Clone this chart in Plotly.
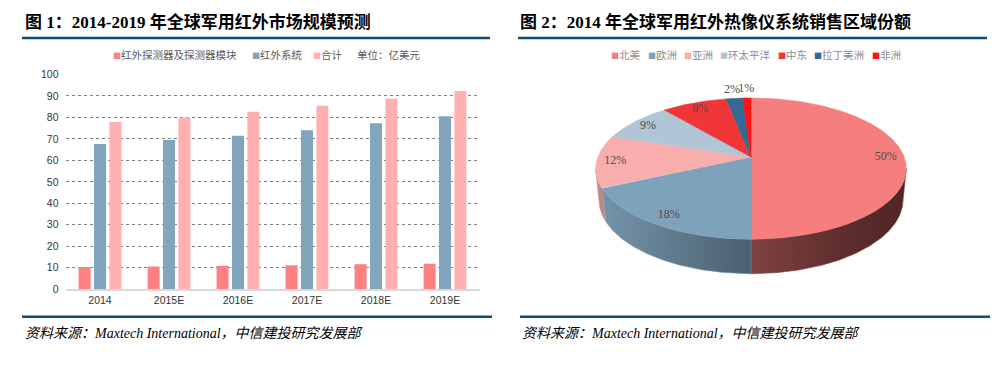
import numpy as np
import plotly.graph_objects as go

# ---------------- data ----------------
years = ["2014", "2015E", "2016E", "2017E", "2018E", "2019E"]
detectors = [10.4, 10.6, 10.9, 11.2, 11.6, 11.9]
systems = [67.6, 69.5, 71.5, 74.0, 77.3, 80.5]
totals = [77.8, 79.9, 82.6, 85.4, 88.7, 92.3]
bar_names = ["红外探测器及探测器模块", "红外系统", "合计"]
unit_label = "单位：亿美元"
y_ticks = [0, 10, 20, 30, 40, 50, 60, 70, 80, 90, 100]

regions = ["北美", "欧洲", "亚洲", "环太平洋", "中东", "拉丁美洲", "非洲"]
shares = [50, 18, 12, 9, 8, 2, 1]

title1 = "图 1：2014-2019 年全球军用红外市场规模预测"
title2 = "图 2：2014 年全球军用红外热像仪系统销售区域份额"
source = "资料来源：Maxtech International，中信建投研究发展部"

# ---------------- styles ----------------
W, H = 1000, 372
bar_colors = ["#FF8080", "#82A5BE", "#FFB1B1"]
top_colors = ["#F57E7E", "#7FA2BB", "#F9AEAE", "#B0C6D6", "#F03636", "#326A94", "#FF1212"]
side_grad = {
    0: [[0, "#7F4242"], [0.6, "#5E2D2D"], [1, "#4F2525"]],
    1: [[0, "#7594AA"], [1, "#4A5F6F"]],
    2: [[0, "#C98D8D"], [1, "#B88080"]],
}
NAVY = "#0E4E7C"
CJK = "Noto Sans CJK SC"
SERIF_CJK = "Liberation Serif, Noto Sans CJK SC"


def px(x):
    return x / W


def py(y):
    return 1 - y / H


fig = go.Figure()

# ---------------- bar chart ----------------
for name, vals, col in zip(bar_names, [detectors, systems, totals], bar_colors):
    fig.add_trace(go.Bar(x=years, y=vals, name=name, marker=dict(color=col, line=dict(width=0)),
                         xaxis="x", yaxis="y", showlegend=False, hoverinfo="skip"))

# ---------------- 3D pie (perspective projection of the slices) ----------------
CX, CY = 751.0, 156.0
SCALE = 825.6
DIST = 5.39
ELEV = np.radians(27.6)
THICK = 0.238


def proj(theta_deg, r=1.0, h=0.0):
    t = np.radians(np.asarray(theta_deg, dtype=float))
    x3 = r * np.sin(t)
    z3 = r * np.cos(t)
    y3 = -h
    yv = y3 * np.cos(ELEV) + z3 * np.sin(ELEV)
    zv = DIST + z3 * np.cos(ELEV) - y3 * np.sin(ELEV)
    return CX + SCALE * x3 / zv, CY - SCALE * yv / zv


def arc(a, b):
    n = max(int(abs(b - a) * 2), 2)
    return np.linspace(a, b, n)


sil = np.degrees(np.arccos(-np.cos(ELEV) / DIST))
front_lo, front_hi = sil, 360 - sil

total = sum(shares)
cum = np.concatenate([[0], np.cumsum(shares)]) / total * 360.0

# side faces
for i in range(len(shares)):
    a, b = max(cum[i], front_lo), min(cum[i + 1], front_hi)
    if b <= a:
        continue
    th = arc(a, b)
    xt, yt = proj(th)
    xb, yb = proj(th[::-1], h=THICK)
    xs = np.concatenate([xt, xb, xt[:1]])
    ys = np.concatenate([yt, yb, yt[:1]])
    grad = side_grad.get(i, [[0, "#888888"], [1, "#888888"]])
    fig.add_trace(go.Scatter(x=xs, y=ys, mode="lines", fill="toself",
                             line=dict(width=0.6, color=grad[0][1]),
                             fillgradient=dict(type="horizontal", colorscale=grad),
                             xaxis="x2", yaxis="y2", showlegend=False, hoverinfo="skip"))

# top faces
for i in range(len(shares)):
    th = arc(cum[i], cum[i + 1])
    xa, ya = proj(th)
    xs = np.concatenate([[CX], xa, [CX]])
    ys = np.concatenate([[CY], ya, [CY]])
    fig.add_trace(go.Scatter(x=xs, y=ys, mode="lines", fill="toself",
                             line=dict(width=0.6, color=top_colors[i]), fillcolor=top_colors[i],
                             xaxis="x2", yaxis="y2", showlegend=False, hoverinfo="skip"))

# slice labels
lx, ly, lt = [], [], []
for i, v in enumerate(shares):
    mid = (cum[i] + cum[i + 1]) / 2
    k = 1.18 if v < 3 else 0.88
    x, y = proj(mid, r=k)
    lx.append(float(x))
    ly.append(float(y))
    lt.append(f"{v}%")
fig.add_trace(go.Scatter(x=lx, y=ly, text=lt, mode="text", textposition="middle center",
                         textfont=dict(family="Liberation Serif", size=12, color="#4D4D4D"),
                         xaxis="x2", yaxis="y2", showlegend=False, hoverinfo="skip"))

# ---------------- annotations ----------------
ann = []
ann.append(dict(x=px(23), y=py(17), xref="paper", yref="paper", xanchor="left", yanchor="middle",
                text="<b>" + title1 + "</b>", showarrow=False,
                font=dict(family=SERIF_CJK, size=17, color="#000000")))
ann.append(dict(x=px(518), y=py(17), xref="paper", yref="paper", xanchor="left", yanchor="middle",
                text="<b>" + title2 + "</b>", showarrow=False,
                font=dict(family=SERIF_CJK, size=17, color="#000000")))
for fx in (23, 520):
    ann.append(dict(x=px(fx), y=py(338), xref="paper", yref="paper", xanchor="left", yanchor="middle",
                    text="<i>" + source + "</i>", showarrow=False,
                    font=dict(family=SERIF_CJK, size=14, color="#000000")))

# bar legend
bar_leg_x = [111, 250, 311]
for name, col, lxp in zip(bar_names, bar_colors, bar_leg_x):
    ann.append(dict(x=px(lxp), y=py(50), xref="paper", yref="paper", xanchor="left", yanchor="middle",
                    text=f"<span style='color:{col};font-size:8px'>■</span>{name}", showarrow=False,
                    font=dict(family=CJK, size=10.5, color="#595959")))
ann.append(dict(x=px(355), y=py(50), xref="paper", yref="paper", xanchor="left", yanchor="middle",
                text=unit_label, showarrow=False, font=dict(family=CJK, size=10.5, color="#595959")))

# pie legend
pie_leg_x = [609, 646, 682, 718, 776, 812, 870]
for name, col, lxp in zip(regions, top_colors, pie_leg_x):
    ann.append(dict(x=px(lxp), y=py(50), xref="paper", yref="paper", xanchor="left", yanchor="middle",
                    text=f"<span style='color:{col};font-size:8px'>■</span>{name}", showarrow=False,
                    font=dict(family=CJK, size=10.5, color="#8C8C8C")))

# ---------------- shapes (rules) ----------------
shapes = []
for x0, x1, y in [(22, 490, 33), (518, 987, 33), (22, 492, 321), (520, 990, 321)]:
    shapes.append(dict(type="line", xref="paper", yref="paper", x0=px(x0), x1=px(x1), y0=py(y), y1=py(y),
                       line=dict(color=NAVY, width=2.5)))

fig.update_layout(
    width=W, height=H,
    margin=dict(l=0, r=0, t=0, b=0),
    paper_bgcolor="white", plot_bgcolor="rgba(0,0,0,0)",
    barmode="group", bargap=0.33, bargroupgap=0.22,
    annotations=ann, shapes=shapes, hovermode=False,
    xaxis=dict(domain=[px(65.5), px(479.5)], anchor="y", type="category",
               showgrid=False, showline=True, linecolor="#D9D9D9", linewidth=2,
               ticks="", tickfont=dict(family="Liberation Sans", size=10.5, color="#333333")),
    yaxis=dict(domain=[py(292.7), py(70.7)], anchor="x", range=[0, 100], tickvals=y_ticks,
               showgrid=True, gridcolor="#7F7F7F", griddash="dot", gridwidth=1,
               zeroline=False, showline=False, ticks="",
               tickfont=dict(family="Liberation Sans", size=10.5, color="#333333"),
               ticklabelstandoff=6),
    xaxis2=dict(domain=[0.5, 1.0], anchor="y2", range=[500, 1000], visible=False, fixedrange=True),
    yaxis2=dict(domain=[0.0, 1.0], anchor="x2", range=[H, 0], visible=False, fixedrange=True),
)

fig.write_html("out.html", config={"displayModeBar": False, "staticPlot": True},
               post_script="document.body.style.margin='0';document.body.style.overflow='hidden';")
